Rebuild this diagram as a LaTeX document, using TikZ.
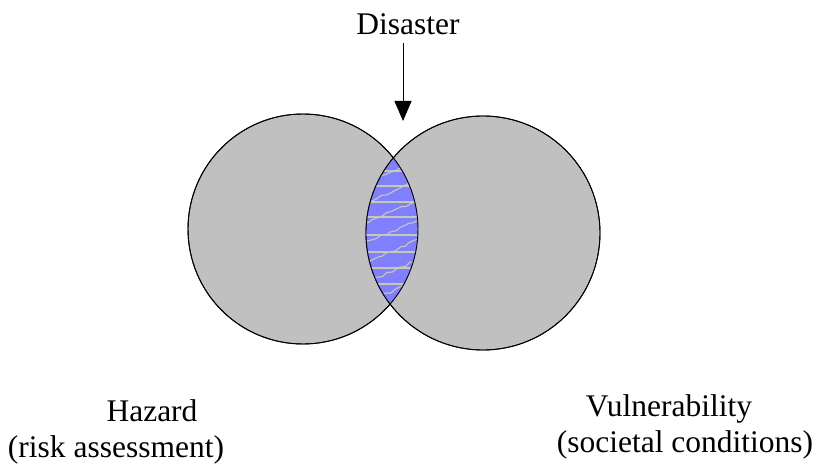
\documentclass[tikz,border=0pt]{standalone}
\usepackage{fontspec}
\setmainfont{Liberation Serif}
\usetikzlibrary{arrows.meta,decorations.pathmorphing}
\definecolor{circgray}{RGB}{192,192,192}
\definecolor{lensblue}{RGB}{128,128,255}
\definecolor{hatch}{RGB}{200,200,185}
\tikzset{
  disc/.style={circle, draw=black, line width=0.9pt, fill=circgray, inner sep=0pt},
  lbl/.style={font=\fontsize{31.5}{36}\selectfont, inner sep=0pt, anchor=base},
  hatchline/.style={draw=hatch, line width=1.1pt},
  pointer/.style={-{Triangle[length=20pt,width=17pt]}, line width=1pt}
}
\begin{document}
\begin{tikzpicture}[x=1pt,y=-1pt]
\useasboundingbox (0,0) rectangle (817,468);
\node[disc, minimum size=230pt] (L) at (303,229) {};
\node[disc, minimum size=234pt] (R) at (483,233) {};
% lens
\begin{scope}
  \clip (303,229) circle (115pt);
  \clip (483,233) circle (117pt);
  \fill[lensblue] (350,140) rectangle (440,320);
  \foreach \yy in {171,186,202,217,235,252,268,284}
    \draw[hatchline] (350,\yy) -- (440,\yy);
  \pgfmathsetseed{7}
  \foreach \yy in {150,170,190,210,230,250,270,290,310,330}
    \draw[hatchline, decorate, decoration={random steps, segment length=5pt, amplitude=1.2pt}]
      (350,\yy) -- (440,\yy-40);
\end{scope}
\draw[line width=0.9pt] (303,229) circle (115pt);
\draw[line width=0.9pt] (483,233) circle (117pt);
% labels
\node[lbl] (dis) at (408,35) {Disaster};
\coordinate (atop) at (403,43);
\coordinate (atip) at (403,121);
\draw[pointer] (atop) -- (atip);
\node[lbl] (haz) at (152,421) {Hazard};
\node[lbl] (risk) at (116,457) {(risk assessment)};
\node[lbl] (vul) at (669,416) {Vulnerability};
\node[lbl] (soc) at (685,452) {(societal conditions)};
\end{tikzpicture}
\end{document}
